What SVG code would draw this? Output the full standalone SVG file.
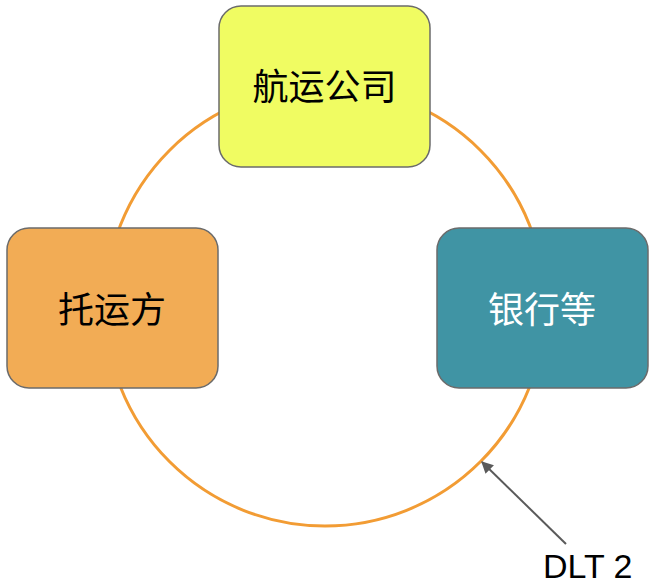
<svg xmlns="http://www.w3.org/2000/svg" width="655" height="588" viewBox="0 0 655 588">
<style>
.box{stroke:#6b6b6b;stroke-width:1.5}
.lbl{font-family:"Liberation Sans","Noto Sans CJK SC",sans-serif;font-size:36px;text-anchor:middle;dominant-baseline:central}
</style>
<defs>
<marker id="ah" viewBox="0 0 10 10" refX="9" refY="5" markerWidth="16" markerHeight="12" orient="auto" markerUnits="userSpaceOnUse">
<path d="M0,0 L10,5 L0,10 z" fill="#5a5a5a"/>
</marker>
</defs>
<rect width="655" height="588" fill="#fff"/>
<g id="connectors">
<circle cx="325" cy="306" r="220" fill="none" stroke="#f29c34" stroke-width="3"/>
<line x1="566" y1="544" x2="482" y2="462" stroke="#5a5a5a" stroke-width="2" marker-end="url(#ah)"/>
</g>
<g id="shipping">
<rect class="box" x="219" y="6" width="211" height="161" rx="22" fill="#f0fc62"/>
<text class="lbl" x="324.5" y="87" fill="#000">航运公司</text>
</g>
<g id="shipper">
<rect class="box" x="7" y="228" width="211" height="160" rx="22" fill="#f2ac55"/>
<text class="lbl" x="112" y="310" fill="#000">托运方</text>
</g>
<g id="bank">
<rect class="box" x="437" y="228" width="211" height="160" rx="22" fill="#4094a4"/>
<text class="lbl" x="542" y="310" fill="#fff">银行等</text>
</g>
<g id="dlt">
<text x="543" y="578" font-family="Liberation Sans,sans-serif" font-size="34" fill="#000">DLT 2</text>
</g>
</svg>
